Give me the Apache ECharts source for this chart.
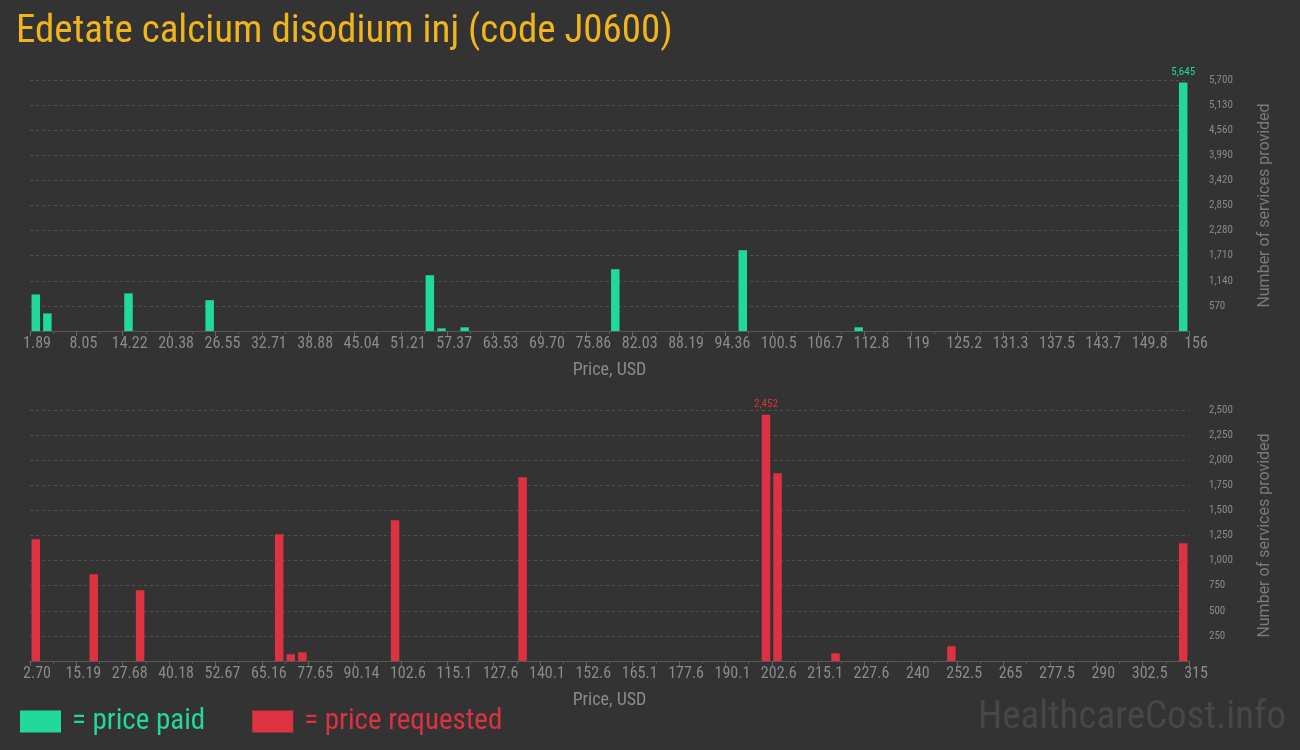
<!DOCTYPE html>
<html><head><meta charset="utf-8">
<script src="https://cdn.jsdelivr.net/npm/echarts@6/dist/echarts.min.js"></script>
<style>html,body{margin:0;padding:0;background:#333333;}#c{width:1300px;height:750px;}</style>
</head><body><div id="c"></div>
<script>
// Tick labels (price bin edges, every 4th of 100 bins)
const paidTickLabels = ["1.89","8.05","14.22","20.38","26.55","32.71","38.88","45.04","51.21","57.37","63.53","69.70","75.86","82.03","88.19","94.36","100.5","106.7","112.8","119","125.2","131.3","137.5","143.7","149.8","156"];
const requestedTickLabels = ["2.70","15.19","27.68","40.18","52.67","65.16","77.65","90.14","102.6","115.1","127.6","140.1","152.6","165.1","177.6","190.1","202.6","215.1","227.6","240","252.5","265","277.5","290","302.5","315"];
// Histogram bins (index 0..99) and counts
const paidBins   = [0, 1, 8, 15, 34, 35, 37, 50, 61, 71, 99];
const paidCounts = [830, 400, 855, 700, 1267, 61, 84, 1403, 1835, 84, 5645];
const requestedBins   = [0, 5, 9, 21, 22, 23, 31, 42, 63, 64, 69, 79, 99];
const requestedCounts = [1213, 864, 705, 1263, 67, 87, 1403, 1831, 2452, 1871, 77, 147, 1173];
const paidYMax = 5700, paidYStep = 570;
const requestedYMax = 2500, requestedYStep = 250;

const GREEN = '#21d99b', RED = '#dc3242';
const NARROW = "'Liberation Sans Narrow','Roboto Condensed','Arial Narrow',sans-serif";
const fmt = v => Number(v).toLocaleString('en-US');

function xAxis(idx, labels) {
  return {
    type: 'value', gridIndex: idx, min: 0, max: 100, interval: 4,
    axisLine: {show: true, lineStyle: {color: '#585858', width: 1}},
    axisTick: {show: true, length: 5, lineStyle: {color: '#666'}},
    minorTick: {show: true, splitNumber: 2, length: 3, lineStyle: {color: '#585858'}},
    splitLine: {show: false},
    axisLabel: {color: '#8a8a8a', fontFamily: NARROW, fontSize: 16, margin: 5,
      padding: [0, 0, 0, 14], showMinLabel: true, showMaxLabel: true,
      formatter: v => labels[Math.round(v / 4)]},
    name: 'Price, USD', nameLocation: 'middle', nameGap: 30,
    nameTextStyle: {color: '#8a8a8a', fontFamily: NARROW, fontSize: 18}
  };
}
function yAxis(idx, max, step) {
  return {
    type: 'value', gridIndex: idx, position: 'right', min: 0, max: max, interval: step,
    axisLine: {show: false}, axisTick: {show: false},
    splitLine: {show: true, lineStyle: {color: '#525252', type: [3, 3]}},
    axisLabel: {color: '#8a8a8a', fontFamily: NARROW, fontSize: 11, margin: 20,
      showMinLabel: false, formatter: fmt},
    name: 'Number of services provided', nameLocation: 'middle', nameRotate: 90, nameGap: 68,
    nameTextStyle: {color: '#7a7a7a', fontFamily: 'Roboto', fontSize: 16}
  };
}
function barData(bins, counts, color) {
  const mx = Math.max(...counts);
  return bins.map((b, i) => {
    const item = {value: [b + 0.5, counts[i]]};
    if (counts[i] === mx) item.label = {show: true, position: 'top', distance: 5,
      color: color, fontFamily: NARROW, fontSize: 11, formatter: p => fmt(p.value[1])};
    return item;
  });
}

const chart = echarts.init(document.getElementById('c'));
chart.setOption({
  backgroundColor: '#333333',
  animation: false,
  title: [
    {text: 'Edetate calcium disodium inj (code J0600)', left: 11, top: 8,
     textStyle: {color: '#f0b41c', fontFamily: NARROW, fontSize: 39, fontWeight: 'normal'}},
    {text: 'HealthcareCost.info', right: 9, top: 694,
     textStyle: {color: '#474747', fontFamily: NARROW, fontSize: 39, fontWeight: 'normal'}}
  ],
  legend: {
    left: 15, top: 702, icon: 'rect', itemWidth: 41, itemHeight: 22, itemGap: 47,
    selectedMode: false,
    textStyle: {fontFamily: NARROW, fontSize: 29, padding: [0, 0, 0, 6]},
    data: [{name: '= price paid', textStyle: {color: GREEN}},
           {name: '= price requested', textStyle: {color: RED}}]
  },
  grid: [
    {left: 30, right: 111, top: 80, height: 251},
    {left: 30, right: 111, top: 410, height: 251}
  ],
  xAxis: [xAxis(0, paidTickLabels), xAxis(1, requestedTickLabels)],
  yAxis: [yAxis(0, paidYMax, paidYStep), yAxis(1, requestedYMax, requestedYStep)],
  series: [
    {type: 'bar', name: '= price paid', xAxisIndex: 0, yAxisIndex: 0, barWidth: 8.5,
     itemStyle: {color: GREEN}, data: barData(paidBins, paidCounts, GREEN)},
    {type: 'bar', name: '= price requested', xAxisIndex: 1, yAxisIndex: 1, barWidth: 8.5,
     itemStyle: {color: RED}, data: barData(requestedBins, requestedCounts, RED)}
  ]
});
</script></body></html>
